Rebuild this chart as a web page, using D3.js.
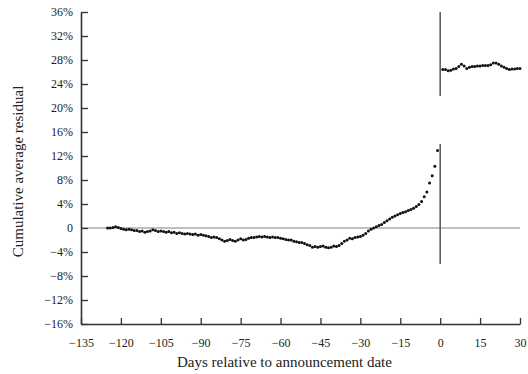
<!DOCTYPE html>
<html>
<head>
<meta charset="utf-8">
<script src="https://cdn.jsdelivr.net/npm/d3@7"></script>
<style>
  body { margin: 0; background: #fff; }
  svg { display: block; }
  .tick text { font-family: "Liberation Serif", "Times New Roman", serif; font-size: 12px; fill: #222; }
</style>
</head>
<body>
<div id="plot"></div>
<script>
// chart size
const w = 528;
const h = 374;

// data: cumulative average residual (%) by day relative to announcement
const preStartDay = -125;
const preValues = [
  0.0, 0.0, 0.1, 0.2, 0.1, -0.1, -0.2, -0.3, -0.2, -0.3,
  -0.4, -0.4, -0.6, -0.5, -0.7, -0.6, -0.5, -0.3, -0.4, -0.6,
  -0.5, -0.6, -0.7, -0.6, -0.8, -0.7, -0.9, -0.8, -0.9, -1.0,
  -0.9, -1.0, -1.1, -1.0, -1.2, -1.1, -1.2, -1.3, -1.4, -1.6,
  -1.5, -1.6, -1.8, -2.0, -2.2, -2.1, -1.9, -2.1, -2.2, -2.0,
  -1.8, -2.0, -1.9, -1.7, -1.6, -1.6, -1.5, -1.4, -1.5, -1.4,
  -1.5, -1.6, -1.5, -1.6, -1.6, -1.7, -1.8, -1.9, -2.0, -2.0,
  -2.2, -2.3, -2.4, -2.4, -2.6, -2.8, -2.9, -3.2, -3.1, -3.2,
  -3.1, -3.0, -3.2, -3.3, -3.2, -3.0, -3.1, -2.9, -2.6, -2.2,
  -2.0, -1.7, -1.8, -1.6, -1.5, -1.4, -1.2, -0.9, -0.5, -0.2,
  0.0, 0.2, 0.4, 0.6, 0.9, 1.2, 1.5, 1.8, 2.0, 2.2,
  2.4, 2.6, 2.7, 2.9, 3.1, 3.3, 3.6, 3.9, 4.4, 5.2,
  6.0, 7.5, 8.7, 10.3, 12.9
];
const postStartDay = 1;
const postValues = [
  26.4, 26.4, 26.2, 26.3, 26.5, 26.6, 26.9, 27.3, 27.0, 26.6,
  26.8, 26.9, 26.9, 27.0, 27.0, 27.1, 27.1, 27.1, 27.2, 27.5,
  27.5, 27.3, 27.0, 26.8, 26.6, 26.4, 26.5, 26.5, 26.6, 26.6
];

// axis ticks
const xTicks = [-135, -120, -105, -90, -75, -60, -45, -30, -15, 0, 15, 30];
const yTicks = [-16, -12, -8, -4, 0, 4, 8, 12, 16, 20, 24, 28, 32, 36];

// vertical marker at day 0 (from / to, in %)
const dayZeroSegments = [[36, 22], [14, -6]];

const margin = {top: 12, right: 8, bottom: 50, left: 81};
const innerWidth = w - margin.left - margin.right;
const innerHeight = h - margin.top - margin.bottom;

const svg = d3.select("div#plot")
  .append("svg")
    .attr("width", w)
    .attr("height", h)
  .append("g")
    .attr("transform", `translate(${margin.left}, ${margin.top})`);

const xScale = d3.scaleLinear().domain([-135, 30]).range([0, innerWidth]);
const yScale = d3.scaleLinear().domain([-16, 36]).range([innerHeight, 0]);

const minus = v => (v < 0 ? "\u2212" + Math.abs(v) : "" + v);

// zero line
svg.append("line")
  .attr("x1", xScale(-135)).attr("x2", xScale(30))
  .attr("y1", yScale(0)).attr("y2", yScale(0))
  .attr("stroke", "#808080")
  .attr("stroke-width", 1);

// day 0 marker
svg.selectAll("line.zero")
  .data(dayZeroSegments)
  .enter().append("line")
    .attr("class", "zero")
    .attr("x1", xScale(0)).attr("x2", xScale(0))
    .attr("y1", d => yScale(d[0]))
    .attr("y2", d => yScale(d[1]))
    .attr("stroke", "#555")
    .attr("stroke-width", 1.5);

// y axis
svg.append("g")
  .attr("class", "yAxis")
  .call(d3.axisLeft(yScale)
    .tickValues(yTicks)
    .tickSize(-7)
    .tickSizeOuter(0)
    .tickPadding(8)
    .tickFormat(d => d === 0 ? "0" : minus(d) + "%"));

// x axis
const xAxis = svg.append("g")
  .attr("class", "xAxis")
  .attr("transform", `translate(0, ${innerHeight})`)
  .call(d3.axisBottom(xScale)
    .tickValues(xTicks)
    .tickSize(-6)
    .tickSizeOuter(0)
    .tickPadding(15)
    .tickFormat(minus));

// put the x tick labels on an explicit baseline
xAxis.selectAll(".tick text")
  .attr("y", 23)
  .attr("dy", null);

svg.selectAll(".domain").attr("stroke", "#333").attr("stroke-width", 1.6);
svg.selectAll(".tick line").attr("stroke", "#333").attr("stroke-width", 1.3);

// points
const pre = preValues.map((v, i) => ({day: preStartDay + i, v: v}));
const post = postValues.map((v, i) => ({day: postStartDay + i, v: v}));

svg.append("g")
  .selectAll("circle")
  .data(pre.concat(post))
  .enter().append("circle")
    .attr("cx", d => xScale(d.day))
    .attr("cy", d => yScale(d.v))
    .attr("r", 1.5)
    .attr("fill", "#111");

// axis labels
svg.append("text")
  .attr("text-anchor", "middle")
  .attr("x", 284.5 - margin.left)
  .attr("y", 367 - margin.top)
  .style("font-family", "'Liberation Serif', serif")
  .style("font-size", "15px")
  .style("fill", "#222")
  .text("Days relative to announcement date");

svg.append("text")
  .attr("text-anchor", "middle")
  .attr("transform", `translate(${23 - margin.left}, ${171.5 - margin.top}) rotate(-90)`)
  .style("font-family", "'Liberation Serif', serif")
  .style("font-size", "15px")
  .style("fill", "#222")
  .text("Cumulative average residual");
</script>
</body>
</html>
